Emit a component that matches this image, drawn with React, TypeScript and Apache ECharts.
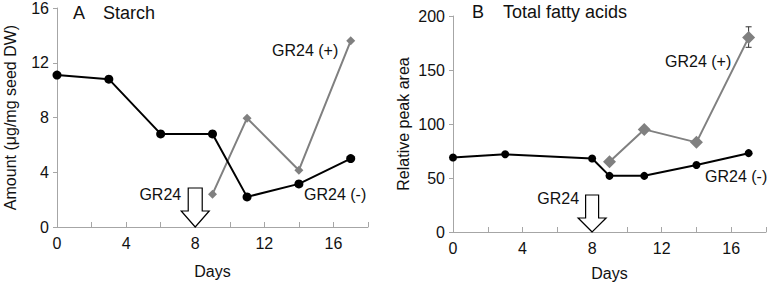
import React, { useEffect, useRef } from "react";
import * as echarts from "echarts";

const starchDaysMinus = [0, 3, 6, 9, 11, 14, 17];
const starchMinus = [11.1, 10.8, 6.8, 6.8, 2.2, 3.15, 5.0];
const starchDaysPlus = [9, 11, 14, 17];
const starchPlus = [2.4, 7.95, 4.15, 13.6];

const faDaysMinus = [0, 3, 8, 9, 11, 14, 17];
const faMinus = [69, 72, 68, 52, 52, 62, 73];
const faDaysPlus = [9, 11, 14, 17];
const faPlus = [65, 95, 83, 180];
const faPlusErrDay = [17];
const faPlusErrLow = [171];
const faPlusErrHigh = [190];

const gr24Day = 8;

const FONT = "'Liberation Sans', Arial, Helvetica, sans-serif";
const AXIS_GREY = "#a6a6a6";
const SERIES_GREY = "#808080";

function pairs(xs: number[], ys: number[]) {
  return xs.map((x, i) => [x, ys[i]]);
}

function xAxisCfg(gridIndex: number, nameGap: number) {
  return {
    type: "value",
    gridIndex,
    min: 0,
    max: 18,
    interval: 2,
    name: "Days",
    nameLocation: "middle",
    nameGap,
    nameTextStyle: { fontFamily: FONT, fontSize: 16, color: "#111" },
    axisLine: { show: true, lineStyle: { color: AXIS_GREY, width: 1 } },
    axisTick: { show: true, inside: true, length: 5, lineStyle: { color: AXIS_GREY } },
    axisLabel: {
      fontFamily: FONT,
      fontSize: 16,
      color: "#111",
      margin: 8,
      formatter: (v: number) => (v % 4 === 0 && v <= 16 ? String(v) : ""),
    },
    splitLine: { show: false },
  };
}

function yAxisCfg(gridIndex: number, max: number, interval: number, name: string, nameGap: number) {
  return {
    type: "value",
    gridIndex,
    min: 0,
    max,
    interval,
    name,
    nameLocation: "middle",
    nameGap,
    nameTextStyle: { fontFamily: FONT, fontSize: 16, color: "#111" },
    axisLine: { show: true, lineStyle: { color: AXIS_GREY, width: 1 } },
    axisTick: { show: true, inside: false, length: 4, lineStyle: { color: AXIS_GREY } },
    axisLabel: { fontFamily: FONT, fontSize: 16, color: "#111", margin: 8 },
    splitLine: { show: false },
  };
}

export default function App() {
  const ref = useRef<HTMLDivElement>(null);

  useEffect(() => {
    if (!ref.current) return;
    const chart = echarts.init(ref.current, null, { renderer: "svg" });

    const option: any = {
      animation: false,
      backgroundColor: "#ffffff",
      grid: [
        { left: 57, right: 402, top: 7, bottom: 63 },
        { left: 453, right: 4, top: 16, bottom: 58 },
      ],
      xAxis: [xAxisCfg(0, 36), xAxisCfg(1, 33)],
      yAxis: [
        yAxisCfg(0, 16, 4, "Amount (μg/mg seed DW)", 39),
        yAxisCfg(1, 200, 50, "Relative peak area", 42),
      ],
      series: [
        {
          type: "line",
          xAxisIndex: 0,
          yAxisIndex: 0,
          data: pairs(starchDaysPlus, starchPlus),
          symbol: "diamond",
          symbolSize: 9,
          lineStyle: { color: SERIES_GREY, width: 2 },
          itemStyle: { color: SERIES_GREY },
          z: 2,
        },
        {
          type: "line",
          xAxisIndex: 0,
          yAxisIndex: 0,
          data: pairs(starchDaysMinus, starchMinus),
          symbol: "circle",
          symbolSize: 9,
          lineStyle: { color: "#000", width: 2 },
          itemStyle: { color: "#000" },
          z: 3,
        },
        {
          type: "custom",
          xAxisIndex: 1,
          yAxisIndex: 1,
          data: faPlusErrDay.map((d, i) => [d, faPlusErrLow[i], faPlusErrHigh[i]]),
          renderItem: (params: any, api: any) => {
            const lo = api.coord([api.value(0), api.value(1)]);
            const hi = api.coord([api.value(0), api.value(2)]);
            const w = 3;
            const style = { stroke: "#333", lineWidth: 1 };
            return {
              type: "group",
              children: [
                { type: "line", shape: { x1: lo[0], y1: lo[1], x2: hi[0], y2: hi[1] }, style },
                { type: "line", shape: { x1: lo[0] - w, y1: lo[1], x2: lo[0] + w, y2: lo[1] }, style },
                { type: "line", shape: { x1: hi[0] - w, y1: hi[1], x2: hi[0] + w, y2: hi[1] }, style },
              ],
            };
          },
          z: 1,
        },
        {
          type: "line",
          xAxisIndex: 1,
          yAxisIndex: 1,
          data: pairs(faDaysPlus, faPlus),
          symbol: "diamond",
          symbolSize: 13,
          lineStyle: { color: SERIES_GREY, width: 2 },
          itemStyle: { color: SERIES_GREY },
          z: 2,
        },
        {
          type: "line",
          xAxisIndex: 1,
          yAxisIndex: 1,
          data: pairs(faDaysMinus, faMinus),
          symbol: "circle",
          symbolSize: 8,
          lineStyle: { color: "#000", width: 2 },
          itemStyle: { color: "#000" },
          z: 3,
        },
      ],
    };
    chart.setOption(option);

    const tipL = chart.convertToPixel({ xAxisIndex: 0, yAxisIndex: 0 } as any, [gr24Day, 0]) as number[];
    const tipR = chart.convertToPixel({ xAxisIndex: 1, yAxisIndex: 1 } as any, [gr24Day, 0]) as number[];

    const arrow = (tip: number[], headHalf: number, headH: number, shaftHalf: number, totalH: number) => {
      const [x, y] = tip;
      return {
        type: "polygon",
        shape: {
          points: [
            [x, y],
            [x - headHalf, y - headH],
            [x - shaftHalf, y - headH],
            [x - shaftHalf, y - totalH],
            [x + shaftHalf, y - totalH],
            [x + shaftHalf, y - headH],
            [x + headHalf, y - headH],
          ],
        },
        style: { fill: "#fff", stroke: "#000", lineWidth: 1.2 },
        z: 10,
      };
    };

    const txt = (text: string, x: number, y: number, size: number, align = "left") => ({
      type: "text",
      x,
      y,
      z: 10,
      style: {
        text,
        fontFamily: FONT,
        fontSize: size,
        fill: "#111",
        textAlign: align,
        textVerticalAlign: "middle",
      },
    });

    chart.setOption({
      graphic: [
        arrow(tipL, 14, 16, 7, 39),
        arrow(tipR, 14, 14, 6.5, 37),
        txt("GR24", tipL[0] - 14, tipL[1] - 33, 16, "right"),
        txt("GR24", tipR[0] - 13, tipR[1] - 34, 16, "right"),
        txt("A", 73, 13, 18),
        txt("Starch", 103, 13, 18),
        txt("B", 472, 12, 18),
        txt("Total fatty acids", 503, 12, 18),
        txt("GR24 (+)", 272, 50, 16),
        txt("GR24 (-)", 304, 194, 16),
        txt("GR24 (+)", 665, 61, 16),
        txt("GR24 (-)", 705, 176, 16),
      ],
    });

    return () => chart.dispose();
  }, []);

  return (
    <div
      ref={ref}
      style={{ position: "fixed", left: 0, top: 0, width: 770, height: 290, background: "#fff" }}
    />
  );
}
